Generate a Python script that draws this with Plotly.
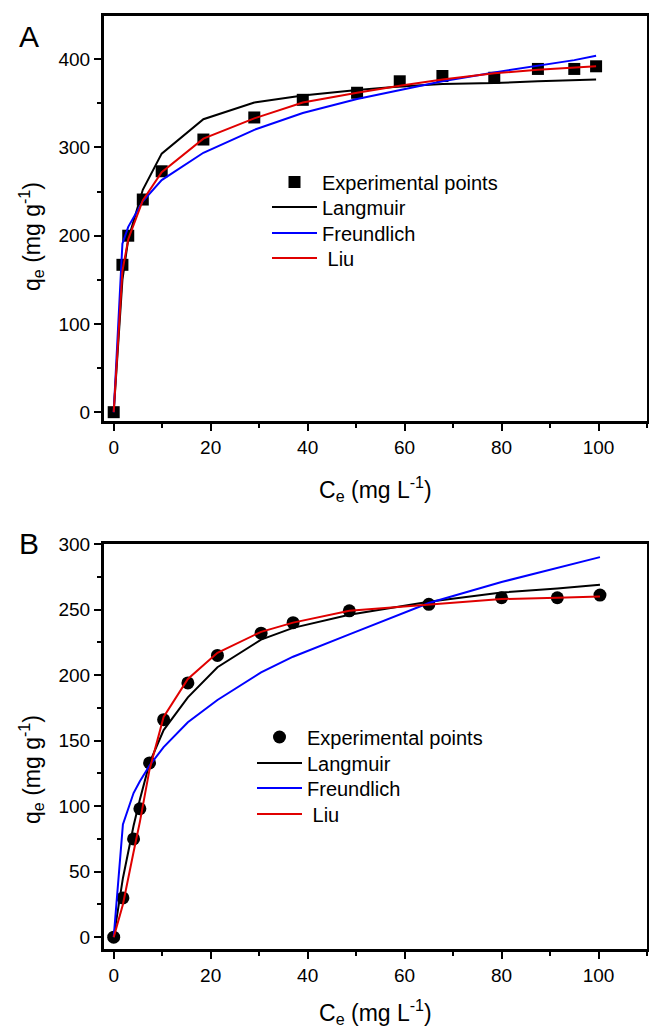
import plotly.graph_objects as go

# ---------- Panel A data ----------
a_ce = [0, 1.8, 3.0, 6.0, 9.9, 18.5, 29.0, 39.0, 50.2, 59.0, 67.8, 78.5, 87.5, 95.0, 99.5]
a_exp = [0, 167, 200, 241, 273, 309, 334, 354, 362, 375, 381, 379, 389, 389, 392]
a_langmuir = [0, 150, 196, 252, 293, 332, 351, 359, 365, 369, 372, 373, 375, 376, 377]
a_freundlich = [0, 191, 210, 239, 263, 294, 320, 339, 355, 365, 375, 385, 393, 399, 404]
a_liu = [0, 160, 196, 240, 272, 310, 333, 351, 362, 370, 377, 384, 388, 390, 392]

# ---------- Panel B data ----------
b_ce = [0, 1.9, 4.1, 5.4, 7.4, 10.3, 15.3, 21.4, 30.4, 37.0, 48.6, 65.0, 80.0, 91.5, 100.3]
b_exp = [0, 30, 75, 98, 133, 166, 194, 215, 232, 240, 249, 254, 259, 259, 261]
b_langmuir = [0, 45, 85, 105, 133, 158, 183, 206, 227, 236, 246, 256, 263, 266, 269]
b_freundlich = [0, 86, 110, 119, 131, 145, 164, 181, 202, 214, 231, 255, 271, 282, 290]
b_liu = [0, 25, 65, 88, 128, 168, 197, 217, 233, 240, 249, 254, 258, 259, 260]

FONT = "Arial, Liberation Sans, sans-serif"
names = ["Experimental points", "Langmuir", "Freundlich", " Liu"]
colors = ["black", "#0000ff", "#e00000"]

W, H = 649, 1029

fig = go.Figure()


def add_panel(ce, exp, lang, freu, liu, xa, ya, legs, symbol, msize):
    fig.add_trace(go.Scatter(x=ce, y=exp, mode="markers", name=names[0],
                             marker=dict(symbol=symbol, size=msize, color="black"),
                             xaxis=xa, yaxis=ya, legend=legs[0], showlegend=True))
    for yy, nm, c, lg in zip([lang, freu, liu], names[1:], colors, legs[1:]):
        fig.add_trace(go.Scatter(x=ce, y=yy, mode="lines", name=nm,
                                 line=dict(color=c, width=2),
                                 xaxis=xa, yaxis=ya, legend=lg, showlegend=True))


add_panel(a_ce, a_exp, a_langmuir, a_freundlich, a_liu, "x", "y",
          ["legend", "legend2", "legend3", "legend4"], "square", 12)
add_panel(b_ce, b_exp, b_langmuir, b_freundlich, b_liu, "x2", "y2",
          ["legend5", "legend6", "legend7", "legend8"], "circle", 13)

minor_tick = dict(ticks="outside", ticklen=4, tickwidth=2, tickcolor="black")
axis_common = dict(showline=True, linecolor="black", linewidth=3, mirror=True,
                   ticks="outside", ticklen=7, tickwidth=2, tickcolor="black",
                   showgrid=False, zeroline=False, automargin=False,
                   tickfont=dict(family=FONT, size=19, color="black"))

xdom = [104 / W, 647 / W]

# legend rows (pixel centres) for each panel
legA_x, legA_rows = 267, [182, 207, 233, 258]
legB_x, legB_rows = 252, [737, 763, 788, 814]


def leg(xpx, ypx):
    return dict(x=xpx / W, y=1 - ypx / H, xanchor="left", yanchor="middle",
                bgcolor="rgba(0,0,0,0)", font=dict(family=FONT, size=20, color="black"),
                itemwidth=45, borderwidth=0, visible=True)


legends = {}
for i, r in enumerate(legA_rows):
    legends["legend" if i == 0 else f"legend{i + 1}"] = leg(legA_x, r)
for i, r in enumerate(legB_rows):
    legends[f"legend{i + 5}"] = leg(legB_x, r)

xtitle = "C<sub>e</sub> (mg L<sup>-1</sup>)"
ytitle = "q<sub>e</sub> (mg g<sup>-1</sup>)"
tfont = dict(family=FONT, size=23, color="black")


def ann(text, xpx, ypx, font, angle=0, xanchor="center"):
    return dict(text=text, x=xpx / W, y=1 - ypx / H, xref="paper", yref="paper",
                xanchor=xanchor, yanchor="middle", showarrow=False, textangle=angle, font=font)


fig.update_layout(
    width=W, height=H, margin=dict(l=0, r=0, t=0, b=0, autoexpand=False),
    showlegend=True,
    plot_bgcolor="white", paper_bgcolor="white",
    font=dict(family=FONT, color="black"),
    xaxis=dict(domain=xdom, anchor="y", range=[-2, 110], dtick=20, tick0=0,
               minor=dict(dtick=10, **minor_tick), **axis_common),
    yaxis=dict(domain=[1 - 421 / H, 1 - 16 / H], anchor="x", range=[-10, 449], dtick=100, tick0=0,
               minor=dict(dtick=50, **minor_tick), **axis_common),
    xaxis2=dict(domain=xdom, anchor="y2", range=[-2, 110], dtick=20, tick0=0,
                minor=dict(dtick=10, **minor_tick), **axis_common),
    yaxis2=dict(domain=[1 - 949 / H, 1 - 544 / H], anchor="x2", range=[-9, 300], dtick=50, tick0=0,
                minor=dict(dtick=25, **minor_tick), **axis_common),
    annotations=[
        ann("A", 17, 37, dict(family=FONT, size=30, color="black"), xanchor="left"),
        ann("B", 17, 543, dict(family=FONT, size=30, color="black"), xanchor="left"),
        ann(xtitle, 375, 489, tfont),
        ann(xtitle, 375, 1012, tfont),
        ann(ytitle, 31, 237, tfont, angle=-90),
        ann(ytitle, 31, 770, tfont, angle=-90),
    ],
    **legends,
)

fig.write_html("out.html")
